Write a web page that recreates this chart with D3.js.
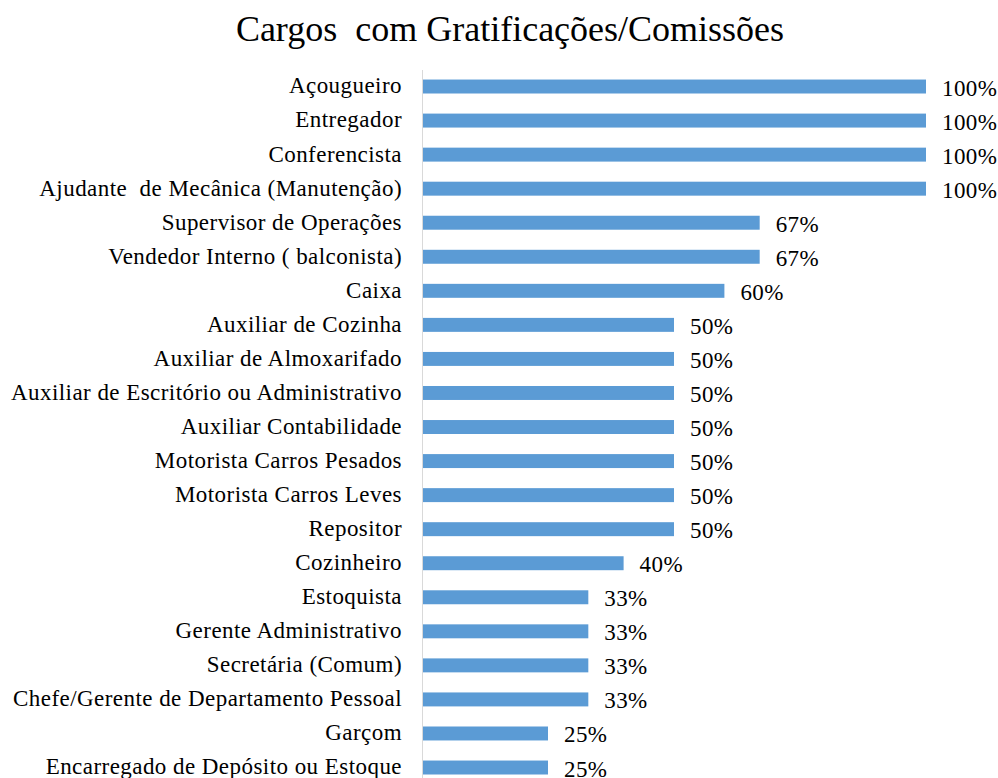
<!DOCTYPE html>
<html>
<head>
<meta charset="utf-8">
<script src="https://cdn.jsdelivr.net/npm/d3@7"></script>
<style>
  html, body { margin: 0; padding: 0; background: #fff; }
  svg { display: block; }
  text { font-family: "Liberation Serif", "Times New Roman", serif; fill: #000; }
</style>
</head>
<body>
<svg id="chart" width="998" height="778"></svg>
<script>
const title = "Cargos\u00a0 com Gratificações/Comissões";
const categories = [
  "Açougueiro",
  "Entregador",
  "Conferencista",
  "Ajudante\u00a0 de Mecânica (Manutenção)",
  "Supervisor de Operações",
  "Vendedor Interno ( balconista)",
  "Caixa",
  "Auxiliar de Cozinha",
  "Auxiliar de Almoxarifado",
  "Auxiliar de Escritório ou Administrativo",
  "Auxiliar Contabilidade",
  "Motorista Carros Pesados",
  "Motorista Carros Leves",
  "Repositor",
  "Cozinheiro",
  "Estoquista",
  "Gerente Administrativo",
  "Secretária (Comum)",
  "Chefe/Gerente de Departamento Pessoal",
  "Garçom",
  "Encarregado de Depósito ou Estoque"
];
const values = [100, 100, 100, 100, 67, 67, 60, 50, 50, 50, 50, 50, 50, 50, 40, 33, 33, 33, 33, 25, 25];
const valueLabels = ["100%","100%","100%","100%","67%","67%","60%","50%","50%","50%","50%","50%","50%","50%","40%","33%","33%","33%","33%","25%","25%"];

(function () {
const svg = d3.select("#chart");
const mLeft = 422, mRight = 926, mTop = 69.5, step = 34.05;

const x = d3.scaleLinear().domain([0, 100]).range([mLeft, mRight]);
const y = d3.scaleBand()
  .domain(categories)
  .range([mTop, mTop + step * categories.length])
  .paddingInner(0.59)
  .paddingOuter(0.295);

svg.append("text")
  .attr("x", 510)
  .attr("y", 41)
  .attr("text-anchor", "middle")
  .style("font-size", "36px")
  .text(title);

svg.append("g").selectAll("rect")
  .data(values)
  .join("rect")
  .attr("x", x(0))
  .attr("y", (d, i) => y(categories[i]))
  .attr("width", d => x(d) - x(0))
  .attr("height", y.bandwidth())
  .attr("fill", "#5B9BD5");

svg.append("g").selectAll("text")
  .data(values)
  .join("text")
  .attr("x", d => x(d) + 16)
  .attr("y", (d, i) => y(categories[i]) + y.bandwidth() / 2 + 9)
  .style("font-size", "23px")
  .style("letter-spacing", "0.4px")
  .text((d, i) => valueLabels[i]);

const axis = d3.axisLeft(y).tickSize(0).tickPadding(20);
const g = svg.append("g").attr("transform", `translate(${mLeft},0)`).call(axis);
g.select(".domain").attr("stroke", "#d9d9d9").attr("stroke-width", 1);
g.selectAll(".tick text")
  .attr("dy", "0.3em")
  .style("font-family", '"Liberation Serif", "Times New Roman", serif')
  .style("font-size", "23px")
  .style("letter-spacing", "0.45px")
  .attr("fill", "#000");
})();
</script>
</body>
</html>
